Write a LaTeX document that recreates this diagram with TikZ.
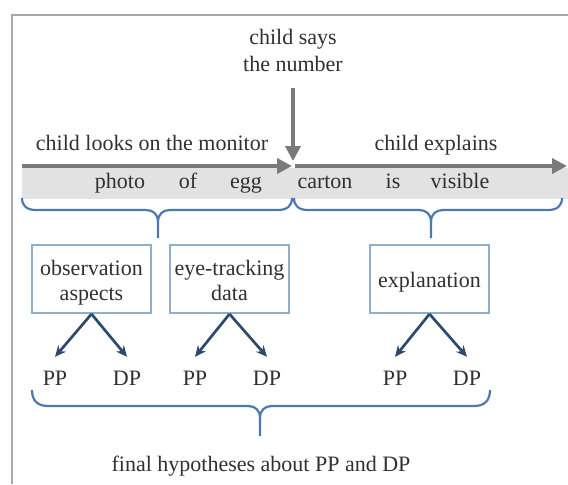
\documentclass[tikz,border=0pt]{standalone}
\usepackage{fontspec}
\setmainfont{Liberation Serif}
\usetikzlibrary{arrows.meta}
\definecolor{txt}{HTML}{303030}
\definecolor{garrow}{HTML}{7A7A7A}
\definecolor{bandc}{HTML}{E2E2E2}
\definecolor{bracec}{HTML}{4C7AAE}
\definecolor{boxc}{HTML}{8FAFCB}
\definecolor{darr}{HTML}{2B4A6D}
\definecolor{framec}{HTML}{A8A8A8}
\newcommand{\lowtext}[2]{\raisebox{#1}[\height][\depth]{#2}}
\begin{document}
\begin{tikzpicture}[x=0.5pt,y=-0.5pt,
  every node/.style={font=\fontsize{11}{13.5}\selectfont, text=txt},
  lbl/.style={inner sep=0pt},
  hbox/.style={draw=boxc, line width=1pt, minimum width=59.5pt, minimum height=34pt,
    align=center, inner sep=1pt, font=\fontsize{11}{12.5}\selectfont},
  garr/.style={draw=garrow, line width=2pt, -{Triangle[length=7.5pt,width=7.5pt]}},
  darrow/.style={draw=darr, line width=1.35pt, -{Stealth[length=5.5pt,width=5pt]}},
  bracel/.style={draw=bracec, line width=1.1pt},
  ppn/.style={inner xsep=1pt, inner ysep=6.8pt}
]
\useasboundingbox (0,0) rectangle (568,484);
\draw[framec, line width=1.3pt] (12,484) -- (12,15) -- (568,15);
\fill[bandc] (22,168) rectangle (568,199);

% top labels
\node[lbl, align=center] (says) at (293,50) {child says\\the number};
\coordinate (dtop) at (293,88);
\coordinate (junc) at (293,161);
\coordinate (lstart) at (22,166);
\coordinate (lend) at (292,166);
\coordinate (rstart) at (295,166);
\coordinate (rend) at (567,166);
\draw[garr] (dtop) -- (junc);
\draw[garr] (lstart) -- (lend);
\draw[garr] (rstart) -- (rend);

\node[lbl, anchor=base] (looks) at (152,150) {child looks on the monitor};
\node[lbl, anchor=base] (explains) at (436,150) {child explains};
\node[lbl, anchor=base] (w1) at (120,188) {photo};
\node[lbl, anchor=base] (w2) at (188,188) {of};
\node[lbl, anchor=base] (w3) at (246,188) {egg};
\node[lbl, anchor=base] (w4) at (325,188) {carton};
\node[lbl, anchor=base] (w5) at (393,188) {is};
\node[lbl, anchor=base] (w6) at (460,188) {visible};

% upper braces
\draw[bracel] (22,198) .. controls (22,206) and (27,210) .. (36,210) -- (146,210)
  .. controls (153,210) and (158,214) .. (158,222) -- (158,238);
\draw[bracel] (292,198) .. controls (292,206) and (287,210) .. (278,210) -- (170,210)
  .. controls (163,210) and (158,214) .. (158,222);
\draw[bracel] (294,198) .. controls (294,206) and (299,210) .. (308,210) -- (419,210)
  .. controls (426,210) and (431,214) .. (431,222) -- (431,238);
\draw[bracel] (562,198) .. controls (562,206) and (557,210) .. (548,210) -- (443,210)
  .. controls (436,210) and (431,214) .. (431,222);

% boxes
\node[hbox] (b1) at (91.5,279) {\lowtext{-1.75pt}{\begin{tabular}{@{}c@{}}observation\\aspects\end{tabular}}};
\node[hbox] (b2) at (229.5,279) {\lowtext{-1.75pt}{\begin{tabular}{@{}c@{}}eye-tracking\\data\end{tabular}}};
\node[hbox] (b3) at (429.5,279) {\lowtext{-1.5pt}{explanation}};

% PP / DP
\node[ppn] (p1) at (55,378) {PP};
\node[ppn] (d1) at (127,378) {DP};
\node[ppn] (p2) at (195,378) {PP};
\node[ppn] (d2) at (267,378) {DP};
\node[ppn] (p3) at (395,378) {PP};
\node[ppn] (d3) at (467,378) {DP};
\draw[darrow] (b1.south) -- (p1.north);
\draw[darrow] (b1.south) -- (d1.north);
\draw[darrow] (b2.south) -- (p2.north);
\draw[darrow] (b2.south) -- (d2.north);
\draw[darrow] (b3.south) -- (p3.north);
\draw[darrow] (b3.south) -- (d3.north);

% bottom brace
\draw[bracel] (32,390) .. controls (32,400) and (37,406) .. (48,406) -- (248,406)
  .. controls (255,406) and (260,410) .. (260,418) -- (260,436);
\draw[bracel] (490,390) .. controls (490,400) and (485,406) .. (474,406) -- (272,406)
  .. controls (265,406) and (260,410) .. (260,418);

\node[lbl] (final) at (261,466) {final hypotheses about PP and DP};
\end{tikzpicture}
\end{document}
